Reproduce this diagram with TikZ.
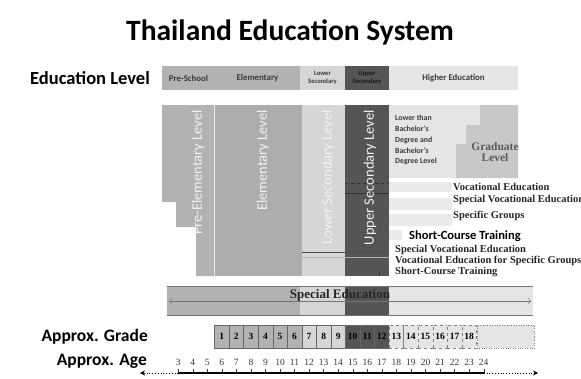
\documentclass[tikz,border=0pt]{standalone}
\usepackage{fontspec}
\setmainfont{Liberation Serif}
\setsansfont{Carlito}
\usetikzlibrary{arrows.meta}
\definecolor{presch}{HTML}{B2B2B2}
\definecolor{elem}{HTML}{ADADAD}
\definecolor{lowsec}{HTML}{D6D6D6}
\definecolor{upsec}{HTML}{555555}
\definecolor{higher}{HTML}{E5E5E5}
\definecolor{grad}{HTML}{C8C8C8}
\definecolor{stripe}{HTML}{EAEAEA}
\definecolor{inktext}{HTML}{3A3A3A}
\begin{document}
\begin{tikzpicture}[x=1pt,y=-1pt,
  bigtitle/.style={font=\sffamily\bfseries\fontsize{29.5}{31}\selectfont,inner sep=0pt},
  rowname/.style={anchor=east,font=\sffamily\bfseries\fontsize{17.5}{19}\selectfont,inner sep=0pt},
  head/.style={font=\sffamily\bfseries\fontsize{8.8}{9}\selectfont,text=inktext,inner sep=0pt,
    align=center,minimum height=24},
  smallhead/.style={head,font=\sffamily\bfseries\fontsize{6.6}{7.8}\selectfont},
  vert/.style={rotate=90,anchor=east,font=\sffamily\fontsize{14.5}{16}\selectfont,text=white!95!black,inner sep=0pt},
  voc/.style={anchor=west,font=\bfseries\fontsize{10.5}{11}\selectfont,inner sep=0pt,text=black!85},
  cell/.style={draw=black!60,font=\bfseries\fontsize{9.5}{10}\selectfont,minimum width=14.55,
    minimum height=23,inner sep=0pt},
  age/.style={font=\fontsize{9.5}{10}\selectfont,inner sep=0pt,text=black!80}]
\useasboundingbox (0,0) rectangle (581,378);
\node[bigtitle] (title) at (290,32) {Thailand Education System};
\node[rowname,font=\sffamily\bfseries\fontsize{18.5}{19}\selectfont] (edlevel) at (150,78) {Education Level};
\node[head,fill=presch,minimum width=53] (hps) at (188.5,78) {Pre-School};
\node[head,fill=presch,minimum width=85] (hel) at (257.5,78) {Elementary};
\node[smallhead,fill=lowsec,minimum width=45] (hls) at (322.5,78) {Lower\\Secondary};
\node[smallhead,fill=upsec,minimum width=44,text=black!90] (hus) at (367,78) {Upper\\Secondary};
\node[head,fill=higher,minimum width=129] (hhe) at (453.5,78) {Higher Education};
\fill[presch] (162,105) -- (215,105) -- (215,276) -- (196,276) -- (196,227) -- (176,227)
  -- (176,202) -- (162,202) -- cycle;
\fill[elem] (215,105) rectangle (302,276);
\draw[white!75!elem] (214.5,105) -- (214.5,276);
\fill[lowsec] (302,105) rectangle (345,276);
\fill[upsec] (345,105) rectangle (389,276);
\fill[higher] (389,105) rectangle (518,178);
\fill[grad] (480,105) -- (518,105) -- (518,178) -- (456,178) -- (456,144) -- (466,144)
  -- (466,125) -- (480,125) -- cycle;
\fill[stripe] (389,182) rectangle (452,192);
\fill[stripe] (389,198) rectangle (452,210);
\fill[stripe] (389,214) rectangle (452,226);
\fill[stripe] (389,230) rectangle (402,240);
\draw[black!80,dashed] (345,183) -- (389,183);
\draw[black!80] (345,193) -- (389,193);
\draw[black!70] (302,252) -- (389,252);
\draw[black!30] (302,257) -- (389,257);
\draw[black!80] (379,272) -- (379,276);
\node[vert] (vpe) at (198,110) {Pre-Elementary Level};
\node[vert] (vel) at (263,110) {Elementary Level};
\node[vert] (vls) at (328,110) {Lower Secondary Level};
\node[vert] (vus) at (370,110) {Upper Secondary Level};
\node[anchor=north west,align=left,inner sep=0pt,text=inktext,
  font=\sffamily\bfseries\fontsize{7.8}{10.8}\selectfont] (bach) at (395,115)
  {Lower than\\Bachelor's\\Degree and\\Bachelor's\\Degree Level};
\node[align=center,inner sep=0pt,text=black!65,font=\bfseries\fontsize{11.5}{11.5}\selectfont]
  (gradlev) at (495,152) {Graduate\\Level};
\node[voc] (voced) at (453,187) {Vocational Education};
\node[voc] (spvoc) at (453,200) {Special Vocational Education};
\node[voc] (spgrp) at (453,216) {Specific Groups};
\node[anchor=west,inner sep=0pt,font=\sffamily\bfseries\fontsize{12.5}{13}\selectfont] (sct) at (409,236)
  {Short-Course Training};
\node[voc] (spvoc2) at (395,250) {Special Vocational Education};
\node[voc] (vocsg) at (395,261) {Vocational Education for Specific Groups};
\node[voc] (sct2) at (395,272) {Short-Course Training};
\fill[presch] (167,286) rectangle (300,315);
\fill[lowsec] (300,286) rectangle (345,315);
\fill[upsec] (345,286) rectangle (389,315);
\fill[higher] (389,286) rectangle (533,315);
\draw[black!55,line width=1pt] (167,286) -- (533,286);
\draw[black!55,line width=1pt] (167,315) -- (533,315);
\coordinate (sel) at (169,301);
\coordinate (ser) at (531,301);
\draw[black!55,{Straight Barb[length=3pt,width=7pt]}-{Straight Barb[length=3pt,width=7pt]}] (sel) -- (ser);
\node[inner sep=0pt,font=\bfseries\fontsize{13}{13}\selectfont,text=black!85] (sped) at (340,295)
  {Special Education};
\node[rowname] (grade) at (148,337) {Approx. Grade};
\node[rowname] (agename) at (147,361) {Approx. Age};
\foreach \g in {1,...,6}
  \node[cell,fill=presch] (g\g) at ({214.5+(\g-0.5)*14.55},336.5) {\g};
\foreach \g in {7,8,9}
  \node[cell,fill=lowsec] (g\g) at ({214.5+(\g-0.5)*14.55},336.5) {\g};
\foreach \g in {10,11,12}
  \node[cell,fill=upsec] (g\g) at ({214.5+(\g-0.5)*14.55},336.5) {\g};
\foreach \g in {13,...,18}
  \node[cell,fill=higher,dashed,draw=black!50] (g\g) at ({214.5+(\g-0.5)*14.55},336.5) {\g};
\node[fill=higher,draw=black!50,dotted,minimum width=57.6,minimum height=23,inner sep=0pt,anchor=west]
  (gmore) at (g18.east) {};
\foreach \a in {3,...,24}{
  \node[age] (a\a) at ({221.8+(\a-6)*14.55},362) {\a};
  \draw[black!80] ({221.8+(\a-6)*14.55},369) -- ({221.8+(\a-6)*14.55},373);
}
\coordinate (ax3) at (178.15,373);
\coordinate (ax24) at (483.7,373);
\coordinate (axl) at (140,373);
\coordinate (axr) at (538,373);
\draw[line width=1.3pt] (ax3) -- (ax24);
\draw[thick,dotted,-{Stealth[length=5pt,width=5pt]}] (ax3) -- (axl);
\draw[thick,dotted,-{Stealth[length=5pt,width=5pt]}] (ax24) -- (axr);
\end{tikzpicture}
\end{document}
